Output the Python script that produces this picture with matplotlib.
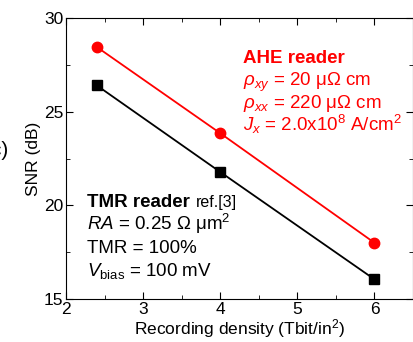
import matplotlib
matplotlib.use("Agg")
import matplotlib.pyplot as plt
from matplotlib.ticker import MultipleLocator

plt.rcParams['font.family'] = ['Liberation Sans', 'DejaVu Sans']
plt.rcParams['mathtext.fontset'] = 'custom'
plt.rcParams['mathtext.rm'] = 'Liberation Sans'
plt.rcParams['mathtext.it'] = 'Liberation Sans:italic'
plt.rcParams['mathtext.bf'] = 'Liberation Sans:bold'

density = [2.4, 4, 6]
snr_ahe = [28.45, 23.85, 18.0]
snr_tmr = [26.4, 21.78, 16.05]

fig = plt.figure(figsize=(4.14, 3.42), dpi=100)
ax = fig.add_axes([66/414, 43/342, 347/414, 281/342])

ax.plot(density, snr_ahe, '-', color='#ff0000', marker='o', markersize=7.5, linewidth=1.3)
ax.plot(density, snr_tmr, '-', color='black', marker='s', markersize=7, linewidth=1.3)

ax.set_xlim(2, 6.5)
ax.set_ylim(15, 30)
ax.xaxis.set_major_locator(MultipleLocator(1))
ax.xaxis.set_minor_locator(MultipleLocator(0.5))
ax.yaxis.set_major_locator(MultipleLocator(5))
ax.yaxis.set_minor_locator(MultipleLocator(2.5))
ax.tick_params(which='both', direction='in', top=True, right=True, labelsize=12.5, pad=2)
ax.tick_params(which='major', length=5)
ax.tick_params(which='minor', length=3)
ax.set_xlabel('Recording density (Tbit/in$^2$)', fontsize=12.5, labelpad=0)
ax.set_ylabel('SNR (dB)', fontsize=12.5, labelpad=2)

red = '#ff0000'
fs = 13.5
ax.text(4.29, 27.6, 'AHE reader', color=red, fontsize=fs, fontweight='bold')
ax.text(4.29, 26.37, r'$\rho_{xy}$ = 20 μΩ cm', color=red, fontsize=fs)
ax.text(4.29, 25.18, r'$\rho_{xx}$ = 220 μΩ cm', color=red, fontsize=fs)
ax.text(4.29, 23.96, r'$J_x$ = 2.0x10$^8$ A/cm$^2$', color=red, fontsize=fs)

ax.text(2.27, 19.9, 'TMR reader', color='black', fontsize=fs, fontweight='bold')
ax.text(3.68, 19.9, 'ref.[3]', color='black', fontsize=11.5)
ax.text(2.27, 18.66, r'$RA$ = 0.25 Ω μm$^2$', color='black', fontsize=fs)
ax.text(2.27, 17.43, 'TMR = 100%', color='black', fontsize=fs)
ax.text(2.27, 16.22, r'$V_{\rm bias}$ = 100 mV', color='black', fontsize=fs)

# panel label cut off at the left edge, as in the source figure
fig.text(-0.036, 0.545, '(c)', fontsize=15)

fig.savefig('out.png', dpi=100)
